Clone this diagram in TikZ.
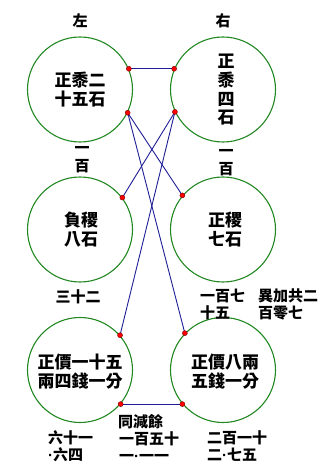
\documentclass[tikz,border=0pt]{standalone}
\usepackage{fontspec}
\newfontfamily\cjk{Noto Sans CJK TC}
\newfontfamily\latdot{Liberation Sans}
\newcommand{\mdt}{{\latdot\bfseries ·}}
\definecolor{ringgreen}{RGB}{34,136,34}
\definecolor{linkblue}{RGB}{30,30,150}
\definecolor{dotedge}{RGB}{120,0,0}
\begin{document}
\begin{tikzpicture}[x=1pt,y=-1pt,
  circ/.style={circle,draw=ringgreen,line width=1.1pt,minimum size=105pt,inner sep=0pt},
  ctext/.style={inner sep=0pt,align=center,font=\cjk\bfseries\fontsize{17}{19}\selectfont},
  lbl/.style={inner sep=0pt,align=left,anchor=west,font=\cjk\bfseries\fontsize{15}{17}\selectfont},
  clbl/.style={inner sep=0pt,align=center,font=\cjk\bfseries\fontsize{15}{18}\selectfont},
  link/.style={draw=linkblue,line width=0.9pt},
  dot/.style={circle,fill=red,draw=dotedge,line width=0.4pt,inner sep=0pt,minimum size=5pt}]
\useasboundingbox (0,0) rectangle (329,465);

% circles
\node[circ] (c1) at (80,89.5) {};
\node[circ] (c2) at (223,89.5) {};
\node[circ] (c3) at (80,229.5) {};
\node[circ] (c4) at (223,229.5) {};
\node[circ] (c5) at (80,370) {};
\node[circ] (c6) at (223,370) {};

% circle texts
\node[ctext] (t1) at (80,89.5) {正黍二\\十五石};
\node[ctext,font=\cjk\bfseries\fontsize{17}{18.7}\selectfont] (t2) at (226,90) {正\\黍\\四\\石};
\node[ctext] (t3) at (81,229.5) {負稷\\八石};
\node[ctext] (t4) at (225,229.5) {正稷\\七石};
\node[ctext] (t5) at (80,371.5) {正價一十五\\兩四錢一分};
\node[ctext] (t6) at (225,372) {正價八兩\\五錢一分};

% attachment points
\coordinate (p1) at (c1.23);
\coordinate (p2) at (c1.-26);
\coordinate (p3) at (c2.157);
\coordinate (p4) at (c2.205);
\coordinate (p5) at (c3.37);
\coordinate (p6) at (c4.140);
\coordinate (p7) at (c5.41);
\coordinate (p8) at (c6.136);
\coordinate (p9) at (c5.-40);
\coordinate (p10) at (c6.220);

% connectors
\draw[link] (p1) -- (p3);
\draw[link] (p2) -- (p6);
\draw[link] (p2) -- (p8);
\draw[link] (p4) -- (p5);
\draw[link] (p4) -- (p7);
\draw[link] (p9) -- (p10);

% dots
\foreach \i in {1,...,10} { \node[dot] (q\i) at (p\i) {}; }

% labels
\node[clbl] (l1) at (80,21) {左};
\node[clbl] (l2) at (223,21) {右};
\node[clbl] (l3) at (82,160) {一\\百};
\node[clbl] (l4) at (226,163) {一\\百};
\node[clbl] (l5) at (78,297) {三十二};
\node[lbl] (l6) at (200,304.5) {一百七\\十五};
\node[lbl] (l7) at (258,304.5) {異加共二\\百零七};
\node[lbl] (l8) at (118,422) {同減餘};
\node[lbl] (l9) at (119,446.5) {一百五十\\一\mdt 一一};
\node[lbl] (l10) at (48,446.5) {六十一\\\mdt 六四};
\node[lbl] (l11) at (207,446.5) {二百一十\\二\mdt 七五};
\end{tikzpicture}
\end{document}
